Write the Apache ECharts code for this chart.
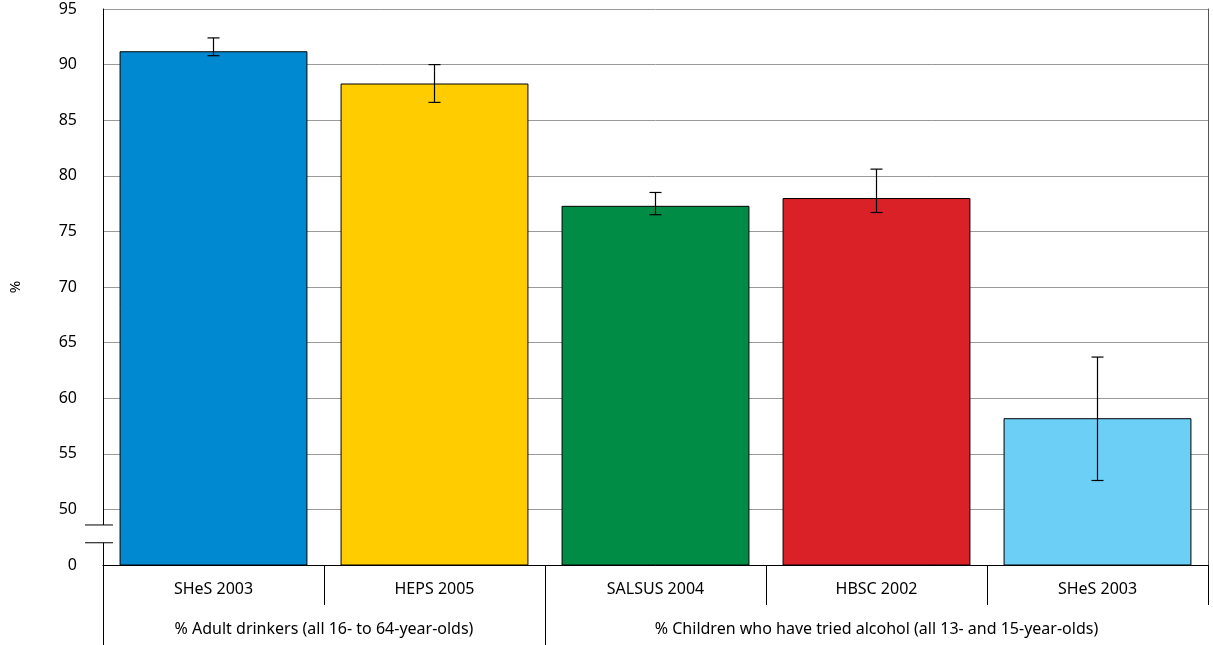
<!DOCTYPE html>
<html>
<head>
<meta charset="utf-8">
<script src="https://cdn.jsdelivr.net/npm/echarts@6/dist/echarts.min.js"></script>
<style>html,body{margin:0;padding:0;background:#fff}#main{width:1213px;height:645px}</style>
</head>
<body>
<div id="main"></div>
<script>
var categories = ['SHeS 2003', 'HEPS 2005', 'SALSUS 2004', 'HBSC 2002', 'SHeS 2003'];
var groups = ['% Adult drinkers (all 16- to 64-year-olds)', '% Children who have tried alcohol (all 13- and 15-year-olds)'];
var values = [91.2, 88.3, 77.3, 78.0, 58.2];
var errLow = [90.8, 86.6, 76.5, 76.7, 52.6];
var errHigh = [92.4, 90.0, 78.5, 80.6, 63.7];
var colors = ['#0088d1', '#ffcc00', '#008c44', '#da2128', '#6ccff6'];

var font = 'Noto Sans';
var chart = echarts.init(document.getElementById('main'));
var option = {
    animation: false,
    textStyle: { fontFamily: font },
    grid: { left: 96, right: 5, top: 9, bottom: 80 },
    xAxis: [
        {
            type: 'category',
            data: categories,
            axisLine: { lineStyle: { color: '#000' } },
            axisTick: { show: true, interval: 0, length: 40, lineStyle: { color: '#000' } },
            axisLabel: { color: '#000', fontSize: 16, margin: 16, interval: 0 }
        },
        {
            type: 'value', min: 0, max: 5, position: 'bottom', offset: 40,
            splitLine: { show: false },
            axisLine: { show: false },
            axisTick: { show: true, customValues: [0, 2], length: 40, lineStyle: { color: '#000' } },
            axisLabel: {
                customValues: [1, 3.5], color: '#000', fontSize: 16, margin: 16,
                formatter: function (v) { return v < 2 ? groups[0] : groups[1]; }
            }
        }
    ],
    yAxis: [
        {
            type: 'value', min: 45, max: 95, interval: 5,
            name: '%', nameLocation: 'middle', nameGap: 80, nameRotate: 90,
            nameTextStyle: { color: '#000', fontSize: 15 },
            axisLine: { show: true, lineStyle: { color: '#000' } },
            axisTick: { show: false },
            axisLabel: { color: '#000', fontSize: 16, margin: 26,
                formatter: function (v) { return v === 45 ? '0' : v; } },
            splitLine: { lineStyle: { color: '#999' } }
        },
        {
            type: 'value', min: 45, max: 95, position: 'right',
            axisLine: { show: true, lineStyle: { color: '#555' } },
            axisTick: { show: false }, axisLabel: { show: false }, splitLine: { show: false }
        }
    ],
    series: [
        {
            type: 'bar',
            barWidth: '85%',
            data: values.map(function (v, i) {
                return { value: v, itemStyle: { color: colors[i], borderColor: '#000', borderWidth: 1 } };
            })
        },
        {
            type: 'custom',
            data: values.map(function (v, i) { return [i, errLow[i], errHigh[i]]; }),
            renderItem: function (params, api) {
                var lo = api.coord([api.value(0), api.value(1)]);
                var hi = api.coord([api.value(0), api.value(2)]);
                var w = 6, st = { stroke: '#000', lineWidth: 1.2 };
                return { type: 'group', children: [
                    { type: 'line', shape: { x1: lo[0], y1: lo[1], x2: hi[0], y2: hi[1] }, style: st },
                    { type: 'line', shape: { x1: lo[0] - w, y1: lo[1], x2: lo[0] + w, y2: lo[1] }, style: st },
                    { type: 'line', shape: { x1: hi[0] - w, y1: hi[1], x2: hi[0] + w, y2: hi[1] }, style: st }
                ] };
            },
            z: 5
        }
    ]
};
chart.setOption(option);

// axis break marks between 0 and 50
var ax = chart.convertToPixel({ xAxisIndex: 1 }, 0);
var yA = chart.convertToPixel({ yAxisIndex: 0 }, 48.6);
var yB = chart.convertToPixel({ yAxisIndex: 0 }, 47.0);
chart.setOption({ graphic: [
    { type: 'rect', shape: { x: ax - 2, y: yA, width: 4, height: yB - yA }, style: { fill: '#fff' }, z: 100 },
    { type: 'line', shape: { x1: ax - 18, y1: yA, x2: ax + 10, y2: yA }, style: { stroke: '#000', lineWidth: 1 }, z: 101 },
    { type: 'line', shape: { x1: ax - 18, y1: yB, x2: ax + 10, y2: yB }, style: { stroke: '#000', lineWidth: 1 }, z: 101 }
] });
</script>
</body>
</html>
